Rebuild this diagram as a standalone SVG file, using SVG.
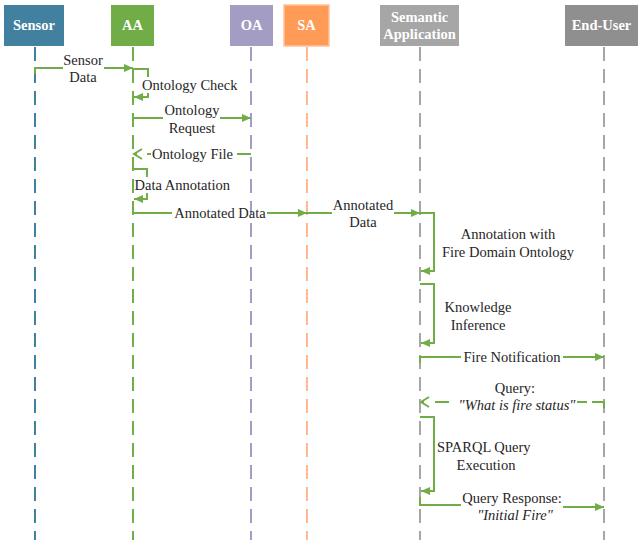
<svg xmlns="http://www.w3.org/2000/svg" width="641" height="540" viewBox="0 0 641 540">
<defs>
<marker id="arr" markerUnits="userSpaceOnUse" markerWidth="10" markerHeight="10" refX="9" refY="4" orient="auto">
<path d="M0,0 L9,4 L0,8 z" fill="#70AD47"/>
</marker>
<marker id="open" markerUnits="userSpaceOnUse" markerWidth="12" markerHeight="14" refX="9" refY="6" orient="auto">
<path d="M1,1 L9,6 L1,11" fill="none" stroke="#70AD47" stroke-width="2"/>
</marker>
</defs>
<style>
.hdr{font-family:"Liberation Serif","Times New Roman",serif;font-weight:bold;font-size:14.5px;fill:#fff;text-anchor:middle}
.t{font-family:"Liberation Serif","Times New Roman",serif;font-size:14.5px;fill:#262626}
.m{text-anchor:middle}
.i{font-style:italic}
.life{stroke-width:2;stroke-dasharray:14 8;fill:none}
.msg{stroke:#70AD47;stroke-width:2;fill:none}
.a{marker-end:url(#arr)}
.o{marker-end:url(#open)}
</style>
<rect width="641" height="540" fill="#fff"/>

<g id="lifelines">
<line class="life" x1="35" y1="47" x2="35" y2="540" stroke="#41809E"/>
<line class="life" x1="133" y1="47" x2="133" y2="540" stroke="#70AD47"/>
<line class="life" x1="251" y1="47" x2="251" y2="540" stroke="#A39DC3"/>
<line class="life" x1="307" y1="47" x2="307" y2="540" stroke="#FFB890"/>
<line class="life" x1="420" y1="47" x2="420" y2="540" stroke="#A6A6A6"/>
<line class="life" x1="604" y1="47" x2="604" y2="540" stroke="#A6A6A6"/>
</g>

<g id="sensor">
<rect x="4" y="5" width="60" height="41" fill="#41809E"/>
<text class="hdr" x="34" y="30">Sensor</text>
</g>
<g id="aa">
<rect x="111" y="5" width="43" height="41" fill="#70AD47"/>
<text class="hdr" x="132.5" y="30">AA</text>
</g>
<g id="oa">
<rect x="230" y="5" width="43" height="41" fill="#A39DC3"/>
<text class="hdr" x="251.5" y="30">OA</text>
</g>
<g id="sa">
<rect x="284" y="5" width="45" height="41" fill="#FF9A57" stroke="#FFC29C" stroke-width="1.5"/>
<text class="hdr" x="306.5" y="30">SA</text>
</g>
<g id="semantic">
<rect x="380" y="5" width="79" height="41" fill="#A6A6A6"/>
<text class="hdr" x="419.5" y="22">Semantic</text>
<text class="hdr" x="419.5" y="39">Application</text>
</g>
<g id="enduser">
<rect x="565" y="5" width="73" height="41" fill="#8F8F8F"/>
<text class="hdr" x="601.5" y="30">End-User</text>
</g>

<g id="connectors">
<polyline class="msg" points="35,74 35,68 63,68"/>
<line class="msg a" x1="104" y1="68" x2="133" y2="68"/>
<path class="msg a" d="M133,69 H148 V97 H134"/>
<line class="msg" x1="133" y1="118" x2="163" y2="118"/>
<line class="msg a" x1="220" y1="118" x2="251" y2="118"/>
<line class="msg" x1="251" y1="154" x2="237" y2="154"/>
<line class="msg" x1="151" y1="154" x2="147" y2="154"/>
<line class="msg o" x1="137" y1="154" x2="134" y2="154"/>
<path class="msg a" d="M133,162 V169 H147 V199 H134"/>
<line class="msg" x1="133" y1="213" x2="172" y2="213"/>
<line class="msg a" x1="267" y1="213" x2="307" y2="213"/>
<line class="msg" x1="307" y1="213" x2="332" y2="213"/>
<line class="msg a" x1="394" y1="213" x2="420" y2="213"/>
<path class="msg a" d="M420,213 H434 V271 H421"/>
<path class="msg a" d="M420,284 H434 V343 H421"/>
<polyline class="msg" points="420,363 420,357 461,357"/>
<line class="msg a" x1="563" y1="357" x2="604" y2="357"/>
<polyline class="msg" points="604,408 604,402 592,402"/>
<line class="msg" x1="587" y1="402" x2="577" y2="402"/>
<line class="msg" x1="449" y1="402" x2="435" y2="402"/>
<line class="msg o" x1="424" y1="402" x2="421" y2="402"/>
<path class="msg a" d="M420,417 H434 V491 H421"/>
<polyline class="msg" points="420,497 420,505 461,505"/>
<line class="msg a" x1="563" y1="507" x2="604" y2="507"/>
</g>

<g id="labels">
<text class="t m" x="83" y="65">Sensor</text>
<text class="t m" x="83" y="82">Data</text>
<rect x="140" y="77" width="100" height="16" fill="#fff"/>
<text class="t" x="142" y="90">Ontology Check</text>
<text class="t m" x="192" y="115">Ontology</text>
<text class="t m" x="192" y="133">Request</text>
<text class="t m" x="192.5" y="159">Ontology File</text>
<rect x="135" y="177" width="98" height="16" fill="#fff"/>
<text class="t" x="134.5" y="190">Data Annotation</text>
<text class="t m" x="220" y="218">Annotated Data</text>
<text class="t m" x="363" y="210">Annotated</text>
<text class="t m" x="363" y="227">Data</text>
<text class="t m" x="508" y="239">Annotation with</text>
<text class="t m" x="508" y="257">Fire Domain Ontology</text>
<text class="t m" x="478" y="312">Knowledge</text>
<text class="t m" x="478" y="330">Inference</text>
<text class="t m" x="512" y="362">Fire Notification</text>
<text class="t m" x="515" y="393">Query:</text>
<text class="t m i" x="517" y="410">"What is fire status"</text>
<text class="t" x="437" y="452">SPARQL Query</text>
<text class="t m" x="486" y="470">Execution</text>
<text class="t m" x="512" y="503">Query Response:</text>
<text class="t m i" x="515" y="520">"Initial Fire"</text>
</g>
</svg>
